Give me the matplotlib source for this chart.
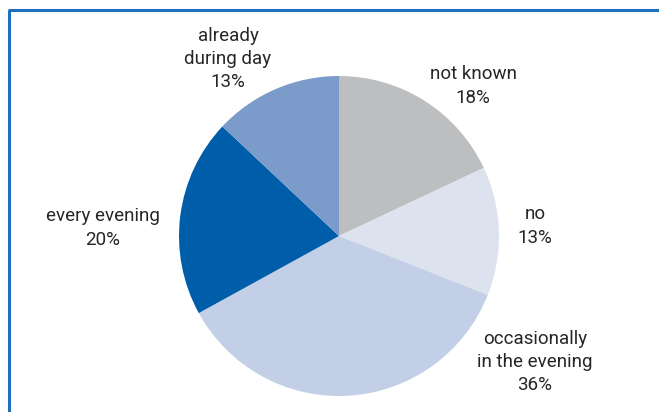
import matplotlib.pyplot as plt

# slices, clockwise from 12 o'clock
labels = ['not known', 'no', 'occasionally\nin the evening', 'every evening', 'already\nduring day']
shares = [18, 13, 36, 20, 13]
colors = ['#bdbec0', '#dde2ef', '#c3cfe6', '#005da9', '#7b9bcb']

# label anchor points in pixel coords (x, y from top)
label_pos = [(473, 86), (535, 226), (535, 362), (103, 228), (228, 59)]

W, H = 659, 412
fig = plt.figure(figsize=(W / 100, H / 100), dpi=100)
ax = fig.add_axes([0, 0, 1, 1])

ax.pie(shares, colors=colors, startangle=90, counterclock=False,
       radius=160, center=(339, H - 236),
       wedgeprops={'linewidth': 0}, frame=True)
ax.set_xlim(0, W)
ax.set_ylim(0, H)
ax.set_aspect('equal')
ax.axis('off')

for lab, val, (x, y) in zip(labels, shares, label_pos):
    ax.text(x, H - y, f'{lab}\n{val}%', ha='center', va='center',
            fontsize=13.5, color='#262626',
            family='Roboto', linespacing=1.38)

# frame on top and left only
ax.plot([9, 9], [0, H - 10], color='#1f6fbf', lw=2.2, solid_capstyle='butt')
ax.plot([8, W], [H - 10, H - 10], color='#1f6fbf', lw=2.2, solid_capstyle='butt')

fig.savefig('out.png', dpi=100)
